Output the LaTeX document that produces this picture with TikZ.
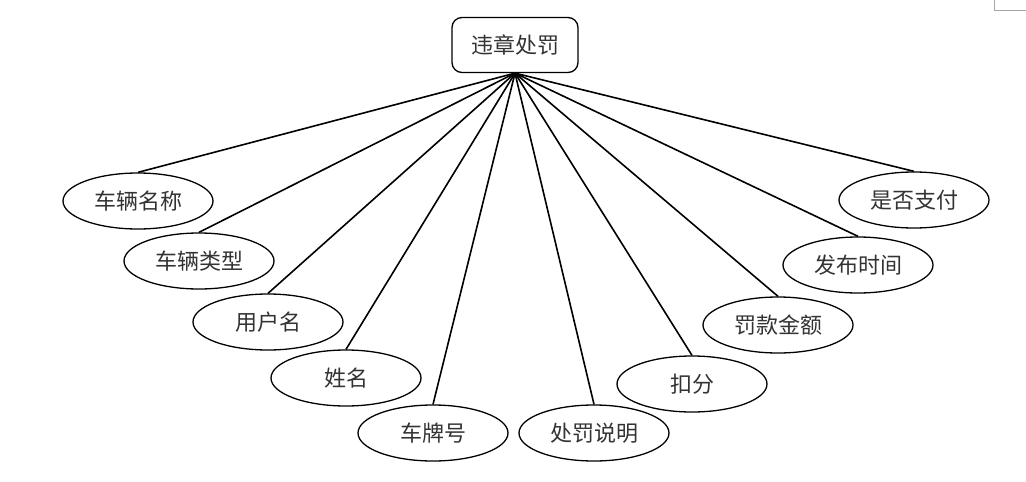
\documentclass[tikz,border=0pt]{standalone}
\usepackage{fontspec}
\newfontfamily\cjk{Noto Sans CJK SC}
\usetikzlibrary{shapes.geometric}
\begin{document}
\begin{tikzpicture}[x=1pt,y=-1pt,
  topbox/.style={draw=black, line width=1.3pt, rounded corners=10pt, minimum width=126pt, minimum height=55pt, inner sep=0pt, font=\cjk\fontsize{22}{26}\selectfont, text=black!80},
  attr/.style={draw=black, line width=1.3pt, ellipse, minimum width=150pt, minimum height=56pt, inner sep=0pt, font=\cjk\fontsize{22}{26}\selectfont, text=black!80},
  link/.style={line width=1.6pt, black}]
\useasboundingbox (0,0) rectangle (1026,482);
\fill[white] (0,0) rectangle (1026,482);
\draw[gray!70, line width=1pt] (994,0) -- (994,10) -- (1026,10);
\node[topbox] (top) at (515,45) {违章处罚};
\node[attr] (a1) at (138,201) {车辆名称};
\node[attr] (a2) at (199,261) {车辆类型};
\node[attr] (a3) at (268,322) {用户名};
\node[attr] (a4) at (346,378) {姓名};
\node[attr] (a5) at (433,433) {车牌号};
\node[attr] (a6) at (594,433) {处罚说明};
\node[attr] (a7) at (692,384) {扣分};
\node[attr] (a8) at (778,325) {罚款金额};
\node[attr] (a9) at (858,265) {发布时间};
\node[attr] (a10) at (914,200) {是否支付};
\foreach \n in {a1,a2,a3,a4,a5,a6,a7,a8,a9,a10}
  \draw[link] (top.south) -- (\n.north);
\end{tikzpicture}
\end{document}
